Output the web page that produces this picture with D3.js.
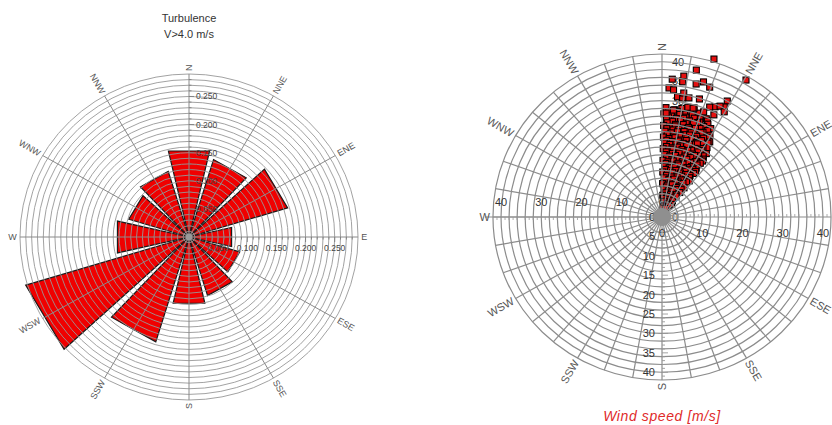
<!DOCTYPE html>
<html><head><meta charset="utf-8">
<script src="https://cdn.jsdelivr.net/npm/d3@7"></script>
<style>
html,body{margin:0;padding:0;background:#fff;}
svg{display:block;font-family:"Liberation Sans",Arial,sans-serif;}
</style></head>
<body><svg id="c" width="832" height="425"></svg>
<script>
// ---------- data ----------
const dirLabels = ["N","NNE","ENE","E","ESE","SSE","S","SSW","WSW","W","WNW","NNW"];
const dirBearings = [0,30,60,90,120,150,180,210,240,270,300,330];
const turbulence = [0.157,0.144,0.177,0.075,0.091,0.109,0.121,0.195,0.293,0.126,0.108,0.122];
const roseTicks = [0.05,0.10,0.15,0.20,0.25];
const roseTickLabels = ["0.050","0.100","0.150","0.200","0.250"];
const speedTicksH = [0,10,20,30,40];
const speedTicksV = [0,5,10,15,20,25,30,35,40];
const titleLines = ["Turbulence","V>4.0 m/s"];
const speedTitle = "Wind speed [m/s]";
// [direction deg, wind speed m/s]
const windPoints = [
 [2,28.2],[6.5,27.8],[10,28.4],[14.5,27.9],[19,28.3],[23.5,27.6],
 [3.5,27.2],[8,27.4],[12,27.1],[16,27.3],[20.5,27],[24.5,27.2],
 [1,26.6],[5,26.3],[9.5,26.8],[13,26.4],[17.5,26.7],[21,26.2],[25.5,26.5],
 [3.5,25.8],[8,25.6],[12,26],[15.5,25.7],[20,25.9],[24,25.5],[28,25.8],
 [2.5,25.1],[6,24.8],[10.5,25.2],[14,24.9],[18,25.3],[22.5,24.7],[27,25],
 [3,24.3],[8,24.1],[12.5,24.4],[16,24],[20,24.3],[25,24.1],[29.5,24.2],
 [1,23.6],[4.5,23.3],[8,23.7],[12,23.4],[16.5,23.6],[20,23.2],[24,23.8],[29,23.5],
 [3,22.8],[7,22.6],[10.5,23],[14,22.7],[18.5,22.9],[22.5,22.5],[27,22.8],[31.5,22.7],
 [2,22.1],[6,21.8],[10,22.3],[14.5,21.9],[18,22.2],[22,21.7],[26.5,22],[31,22.2],
 [3.5,21.3],[8,21.1],[12,21.5],[16,21.2],[20,21.4],[24,21],[28.5,21.3],[32,21.1],
 [1,20.6],[5,20.3],[9,20.7],[13.5,20.4],[17,20.6],[21.5,20.2],[25,20.8],[30,20.4],
 [3.5,19.8],[7.5,19.6],[12,20],[15.5,19.7],[20,19.9],[25,19.5],[30,19.8],[34,19.7],
 [2,19.1],[6,18.8],[10.5,19.2],[14,18.9],[18.5,19.3],[23,18.7],[28,19],[33,18.8],
 [3.5,18.2],[8,18],[12,18.4],[16,18.1],[20.5,18.3],[25,17.9],[30,18.2],[34.5,18.1],
 [1,17.6],[5.5,17.3],[9,17.7],[13,17.4],[17.5,17.6],[22,17.2],[27,17.8],[32,17.4],[35,17.6],
 [3.5,16.8],[9,16.6],[14.5,17],[20,16.7],[25,16.9],[30,16.5],[34.5,16.8],
 [2.5,16.1],[7,15.8],[12,16.2],[17,15.9],[22.5,16.1],[27,15.7],[33,16],
 [4,15.2],[9.5,15],[14.5,15.4],[19.5,15.1],[24.5,15.3],[29.5,14.9],[34,15.2],
 [1,14.6],[6,14.3],[11,14.7],[16,14.4],[21,14.6],[26.5,14.2],[32,14.5],[35.5,14.4],
 [4,13.8],[10,13.6],[17,14],[23,13.7],[29,13.9],[35,13.7],
 [3,13.1],[8,12.8],[14,13.2],[20,12.9],[26,13.1],[33,12.8],
 [4,12.3],[10,12.1],[16,12.5],[22,12.2],[28,12.4],[34,12.2],
 [1,11.6],[7,11.3],[13,11.7],[19,11.4],[25,11.6],[31,11.3],[36,11.5],
 [6,10.8],[13,10.6],[20,11],[27,10.7],[34,10.9],
 [3,10.1],[10,9.8],[17,10.2],[24,9.9],[31,10.1],
 [5,9.2],[13,9],[21,9.4],[29,9.1],[36,9.3],
 [1,8.6],[9,8.3],[17,8.7],[25,8.4],[34,8.5],
 [8,7.8],[17,7.6],[26,7.9],[35,7.7],
 [4,7.1],[13,6.9],[22,7.2],[31,6.8],
 [8,6.3],[20,6.1],[33,6.4],
 [2,5.6],[14,5.4],[27,5.5],
 [4,4.8],[19,4.7],[32,4.9],
 [8,4.1],[24,3.9],[36,4],
 [14,3.2],[30,3.3],
 [5,2.6],[22,2.4],
 [17.6,42.7],[30.6,41],[12.7,38.8],[8.5,36.7],[4.1,35.6],[3,33.3],[8.4,35.2],[16.5,36.3],
 [19.5,35.5],[13.9,35.3],[5,32.9],[7.1,31.2],[9.5,31.1],[12.3,31.4],[17,31.8],[28.5,34],
 [28.6,32.3],[24.9,31.3],[15.9,29.2],[12.8,29],[5.9,27.7],[2.2,26.8],[9.6,32.4],[22.7,30.7],
 [26.8,32],[15.4,29.1],[20.9,29],[26.1,29.3],[29.7,31.2]
];

// ---------- drawing ----------
const svg = d3.select("#c");
const KX = 1.037; // horizontal stretch of the original picture
const rad = d => d*Math.PI/180;
function pos(cx,cy,r,deg){ return [cx + KX*r*Math.sin(rad(deg)), cy - r*Math.cos(rad(deg))]; }

function dirLabel(g,cx,cy,R,b,txt,fs,col){
  const p = pos(cx,cy,R,b);
  const right = b < 180;
  const rot = right ? b-90 : b-270;
  g.append("text").attr("x",p[0]).attr("y",p[1])
   .attr("transform",`rotate(${rot},${p[0]},${p[1]})`)
   .attr("text-anchor", right ? "start" : "end")
   .attr("dominant-baseline","central")
   .attr("font-size",fs).attr("fill",col).text(txt);
}

// ===== Left: turbulence rose =====
(function(){
  const cx=189, cy=237;
  const r = d3.scaleLinear().domain([0,0.29]).range([0,163]);
  const g = svg.append("g");
  g.selectAll("text.title").data(titleLines).join("text")
   .attr("x",cx).attr("y",(d,i)=>22+i*16).attr("text-anchor","middle")
   .attr("font-size",11).attr("fill","#333").text(d=>d);
  const half = 13;
  g.selectAll("path.bar").data(turbulence).join("path")
   .attr("d",(v,i)=>{
      const b=dirBearings[i];
      const a=pos(cx,cy,r(v),b-half), c=pos(cx,cy,r(v),b+half);
      return `M${cx},${cy}L${a[0]},${a[1]}L${c[0]},${c[1]}Z`;
   })
   .attr("fill","#f00000").attr("stroke","#1a1a1a").attr("stroke-width",1.2);
  const rings = d3.range(1,30).map(k=>k/100);
  g.selectAll("ellipse.ring").data(rings).join("ellipse")
   .attr("cx",cx).attr("cy",cy).attr("rx",d=>r(d)*KX).attr("ry",d=>r(d))
   .attr("fill","none").attr("stroke","#979797").attr("stroke-width",0.9);
  g.selectAll("line.spoke").data(dirBearings).join("line")
   .attr("x1",cx).attr("y1",cy)
   .attr("x2",b=>pos(cx,cy,r(0.29),b)[0]).attr("y2",b=>pos(cx,cy,r(0.29),b)[1])
   .attr("stroke","#8a8a8a").attr("stroke-width",1);
  const minor = d3.range(1,29).map(k=>k/100);
  g.selectAll("line.tn").data(minor).join("line")
   .attr("x1",cx).attr("x2",d=> cx + (Math.round(d*100)%5===0?5:2.5))
   .attr("y1",d=>cy-r(d)).attr("y2",d=>cy-r(d)).attr("stroke","#777").attr("stroke-width",0.8);
  g.selectAll("line.te").data(minor).join("line")
   .attr("y1",cy).attr("y2",d=> cy + (Math.round(d*100)%5===0?5:2.5))
   .attr("x1",d=>cx+r(d)*KX).attr("x2",d=>cx+r(d)*KX).attr("stroke","#777").attr("stroke-width",0.8);
  g.selectAll("text.tv").data(roseTicks).join("text")
   .attr("x",cx+7).attr("y",d=>cy-r(d)).attr("dominant-baseline","central")
   .attr("font-size",8.5).attr("fill","#444").text((d,i)=>roseTickLabels[i]);
  g.selectAll("text.th").data(roseTicks).join("text")
   .attr("x",d=>cx+r(d)*KX).attr("y",cy+11).attr("text-anchor","middle").attr("dominant-baseline","central")
   .attr("font-size",8.5).attr("fill","#444").text((d,i)=>roseTickLabels[i]);
  g.append("circle").attr("cx",cx).attr("cy",cy).attr("r",4).attr("fill","#999").attr("stroke","#666");
  dirLabels.forEach((t,i)=>dirLabel(g,cx,cy,r(0.29)+3,dirBearings[i],t,9,"#555"));
})();

// ===== Right: wind speed scatter =====
(function(){
  const cx=662, cy=217;
  const r = d3.scaleLinear().domain([0,42]).range([0,163]);
  const g = svg.append("g");
  const fs=11, col="#333";
  // axis labels (under the points)
  g.selectAll("text.ln").data(speedTicksV).join("text")
   .attr("x",cx+10).attr("y",d=>cy-r(d)).attr("text-anchor","start").attr("dominant-baseline","central")
   .attr("font-size",fs).attr("fill",col).text(d=>d);
  // points (grid is drawn over them)
  const s=6;
  g.selectAll("rect.pt").data(windPoints).join("rect")
   .attr("x",d=>pos(cx,cy,r(d[1]),d[0])[0]-s/2).attr("y",d=>pos(cx,cy,r(d[1]),d[0])[1]-s/2)
   .attr("width",s).attr("height",s)
   .attr("fill","#e41010").attr("stroke","#000").attr("stroke-width",1.1);
  const rings = d3.range(2,43,2);
  g.selectAll("ellipse.ring").data(rings).join("ellipse")
   .attr("cx",cx).attr("cy",cy).attr("rx",d=>r(d)*KX).attr("ry",d=>r(d))
   .attr("fill","none").attr("stroke","#8c8c8c").attr("stroke-width",1.2);
  const spokes = d3.range(0,360,10);
  g.selectAll("line.spoke").data(spokes).join("line")
   .attr("x1",cx).attr("y1",cy)
   .attr("x2",b=>pos(cx,cy,r(42),b)[0]).attr("y2",b=>pos(cx,cy,r(42),b)[1])
   .attr("stroke","#8c8c8c").attr("stroke-width",1.2);
  g.append("line").attr("x1",cx-r(42)*KX-8).attr("x2",cx).attr("y1",cy).attr("y2",cy)
   .attr("stroke","#8c8c8c").attr("stroke-width",1.2);
  const minor = d3.range(1,42).filter(k=>k%5!==0);
  g.selectAll("line.tw").data(minor).join("line")
   .attr("x1",d=>cx-r(d)*KX).attr("x2",d=>cx-r(d)*KX).attr("y1",cy).attr("y2",cy+3)
   .attr("stroke","#999").attr("stroke-width",0.8);
  g.selectAll("line.te").data(minor).join("line")
   .attr("x1",d=>cx+r(d)*KX).attr("x2",d=>cx+r(d)*KX).attr("y1",cy).attr("y2",cy-3)
   .attr("stroke","#999").attr("stroke-width",0.8);
  g.selectAll("line.ts").data(d3.range(1,42)).join("line")
   .attr("x1",cx).attr("x2",d=>cx+(d%5===0?6:3)).attr("y1",d=>cy+r(d)).attr("y2",d=>cy+r(d))
   .attr("stroke","#999").attr("stroke-width",0.9);
  g.selectAll("text.lw").data(speedTicksH).join("text")
   .attr("x",d=>cx-r(d)*KX).attr("y",cy-15).attr("text-anchor","middle").attr("dominant-baseline","central")
   .attr("font-size",fs).attr("fill",col).text(d=>d);
  g.selectAll("text.le").data(speedTicksH).join("text")
   .attr("x",d=>cx+r(d)*KX).attr("y",cy+16).attr("text-anchor","middle").attr("dominant-baseline","central")
   .attr("font-size",fs).attr("fill",col).text(d=>d);
  g.selectAll("text.ls").data(speedTicksV).join("text")
   .attr("x",cx-7).attr("y",d=>cy+r(d)).attr("text-anchor","end").attr("dominant-baseline","central")
   .attr("font-size",fs).attr("fill",col).text(d=>d);
  g.append("circle").attr("cx",cx).attr("cy",cy).attr("r",9).attr("fill","#8f8f8f");
  dirLabels.forEach((t,i)=>dirLabel(g,cx,cy,r(42)+3,dirBearings[i],t,11,"#555"));
  g.append("text").attr("x",cx).attr("y",421).attr("text-anchor","middle")
   .attr("font-size",14).attr("font-style","italic").attr("letter-spacing",0.6)
   .attr("fill","#e02a2a").text(speedTitle);
})();
</script></body></html>
